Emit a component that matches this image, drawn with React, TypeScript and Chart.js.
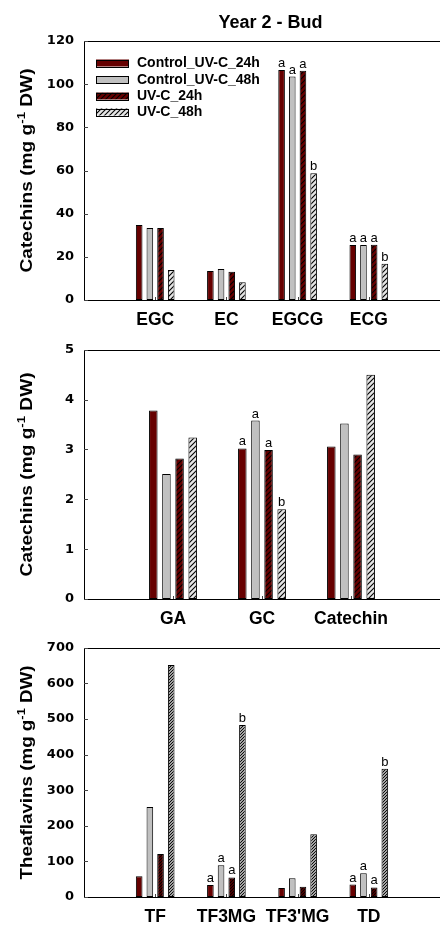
import React, { useEffect, useRef } from 'react';
import { Chart, registerables } from 'chart.js';
Chart.register(...registerables);

// ---------- DATA ----------
const seriesLabels = ['Control_UV-C_24h', 'Control_UV-C_48h', 'UV-C_24h', 'UV-C_48h'];

const catsTop = ['EGC', 'EC', 'EGCG', 'ECG'];
const topControl24 = [34.7, 13.4, 106.6, 25.5];
const topControl48 = [33.4, 14.4, 103.5, 25.5];
const topUV24 = [33.4, 13.1, 106.2, 25.6];
const topUV48 = [13.9, 8.2, 58.7, 16.8];
const topLetters = [['', '', '', ''], ['', '', '', ''], ['a', 'a', 'a', 'b'], ['a', 'a', 'a', 'b']];
const topTicks = [0, 20, 40, 60, 80, 100, 120];

const catsMid = ['GA', 'GC', 'Catechin'];
const midControl24 = [3.78, 3.02, 3.06];
const midControl48 = [2.51, 3.58, 3.52];
const midUV24 = [2.82, 2.99, 2.9];
const midUV48 = [3.24, 1.8, 4.5];
const midLetters = [['', '', '', ''], ['a', 'a', 'a', 'b'], ['', '', '', '']];
const midTicks = [0, 1, 2, 3, 4, 5];

const catsBot = ['TF', 'TF3MG', "TF3'MG", 'TD'];
const botControl24 = [58, 34, 25, 35];
const botControl48 = [253, 89, 53, 67];
const botUV24 = [121, 55, 29, 27];
const botUV48 = [652, 483, 176, 360];
const botLetters = [['', '', '', ''], ['a', 'a', 'a', 'b'], ['', '', '', ''], ['a', 'a', 'a', 'b']];
const botTicks = [0, 100, 200, 300, 400, 500, 600, 700];

const chartTitle = 'Year 2 - Bud';
const yTitleTop = ['Catechins (mg g', '-1', ' DW)'];
const yTitleMid = ['Catechins (mg g', '-1', ' DW)'];
const yTitleBot = ['Theaflavins (mg g', '-1', ' DW)'];

// ---------- STYLE ----------
const SANS = "'Liberation Sans', Arial, sans-serif";
const DARK = '#660000';
const GRAY = '#c0c0c0';
const LIGHT = '#e4e4e4';

function hatch(bg: string, s: number) {
  const c = document.createElement('canvas');
  c.width = s;
  c.height = s;
  const ctx = c.getContext('2d')!;
  ctx.fillStyle = bg;
  ctx.fillRect(0, 0, s, s);
  ctx.strokeStyle = '#000';
  ctx.lineWidth = 1.1;
  ctx.beginPath();
  ctx.moveTo(-1, s + 1);
  ctx.lineTo(s + 1, -1);
  ctx.moveTo(-2, 2);
  ctx.lineTo(2, -2);
  ctx.moveTo(s - 2, s + 2);
  ctx.lineTo(s + 2, s - 2);
  ctx.stroke();
  return ctx.createPattern(c, 'repeat')!;
}

interface Panel {
  cats: string[];
  series: number[][];
  letters: string[][];
  ticks: number[];
  yTitle: string[];
  yTitleLen: number;
  top: number;
  xHeight: number;
  height: number;
  hatchSize: number;
  catPct: number;
  barPct: number;
  showTitle: boolean;
  showLegend: boolean;
}

const framePlugin = {
  id: 'frame',
  beforeDatasetsDraw(chart: any) {
    const { ctx, chartArea: a } = chart;
    const p: Panel = chart.options.plugins.frame.panel;
    ctx.save();
    ctx.strokeStyle = '#000';
    ctx.lineWidth = 1;
    ctx.beginPath();
    ctx.rect(Math.round(a.left) + 0.5, Math.round(a.top) + 0.5, Math.round(a.right - a.left), Math.round(a.bottom - a.top));
    ctx.stroke();
    const ys = chart.scales.y;
    ctx.beginPath();
    p.ticks.forEach((t) => {
      const y = Math.round(ys.getPixelForValue(t)) + 0.5;
      ctx.moveTo(a.left, y);
      ctx.lineTo(a.left + 4, y);
    });
    const xs = chart.scales.x;
    p.cats.forEach((_, i) => {
      const x = Math.round(xs.getPixelForValue(i + 1)) + 0.5;
      ctx.moveTo(x, a.bottom);
      ctx.lineTo(x, a.bottom - 3);
    });
    ctx.strokeStyle = '#444';
    ctx.stroke();
    ctx.restore();
  },
  afterDraw(chart: any) {
    const { ctx, chartArea: a } = chart;
    const p: Panel = chart.options.plugins.frame.panel;
    ctx.save();
    // letters
    ctx.fillStyle = '#000';
    ctx.font = `13px ${SANS}`;
    ctx.textAlign = 'center';
    ctx.textBaseline = 'alphabetic';
    chart.data.datasets.forEach((_: any, di: number) => {
      const meta = chart.getDatasetMeta(di);
      p.cats.forEach((_c, ci) => {
        const letter = p.letters[ci][di];
        if (!letter) return;
        const el = meta.data[ci + 1];
        ctx.fillText(letter, el.x, el.y - 3);
      });
    });
    // y title
    ctx.save();
    ctx.translate(32, (a.top + a.bottom) / 2);
    ctx.rotate(-Math.PI / 2);
    const big = `bold 16px ${SANS}`;
    const small = `bold 11px ${SANS}`;
    ctx.font = big;
    const w0 = ctx.measureText(p.yTitle[0]).width;
    const w2 = ctx.measureText(p.yTitle[2]).width;
    ctx.font = small;
    const w1 = ctx.measureText(p.yTitle[1]).width;
    const total = w0 + w1 + w2;
    ctx.scale(p.yTitleLen / total, 1);
    let x = -total / 2;
    ctx.textAlign = 'left';
    ctx.textBaseline = 'alphabetic';
    ctx.font = big;
    ctx.fillText(p.yTitle[0], x, 0);
    x += w0;
    ctx.font = small;
    ctx.fillText(p.yTitle[1], x, -7);
    x += w1;
    ctx.font = big;
    ctx.fillText(p.yTitle[2], x, 0);
    ctx.restore();
    // title
    if (p.showTitle) {
      ctx.font = `bold 18px ${SANS}`;
      ctx.textAlign = 'center';
      ctx.textBaseline = 'middle';
      ctx.fillText(chartTitle, 270.5, 23);
    }
    // legend
    if (p.showLegend) {
      const rows = [63, 79.5, 96, 112];
      chart.data.datasets.forEach((ds: any, i: number) => {
        const y = rows[i];
        ctx.fillStyle = ds.backgroundColor;
        ctx.fillRect(96, y - 3.5, 33, 7);
        ctx.strokeStyle = '#000';
        ctx.lineWidth = 1;
        ctx.strokeRect(96.5, Math.round(y - 3.5) + 0.5, 32, 7);
        ctx.fillStyle = '#000';
        ctx.font = `bold 14px ${SANS}`;
        ctx.textAlign = 'left';
        ctx.textBaseline = 'middle';
        ctx.fillText(ds.label, 137, y + 0.5);
      });
    }
    ctx.restore();
  },
};

function makeConfig(p: Panel): any {
  const fills = [DARK, GRAY, hatch(DARK, p.hatchSize), hatch(LIGHT, p.hatchSize)];
  const labels = ['', ...p.cats, ''];
  return {
    type: 'bar',
    data: {
      labels,
      datasets: p.series.map((vals, i) => ({
        label: seriesLabels[i],
        data: [null, ...vals, null],
        backgroundColor: fills[i],
        borderColor: '#000',
        borderWidth: 1,
        borderSkipped: false,
        categoryPercentage: p.catPct,
        barPercentage: p.barPct,
      })),
    },
    options: {
      responsive: false,
      animation: false,
      events: [],
      layout: { padding: { top: p.top, right: 6, left: 0, bottom: 0 } },
      plugins: {
        legend: { display: false },
        title: { display: false },
        tooltip: { enabled: false },
        frame: { panel: p },
      },
      scales: {
        x: {
          type: 'category',
          offset: false,
          grid: { display: false, drawTicks: false },
          border: { display: false },
          ticks: {
            autoSkip: false,
            maxRotation: 0,
            minRotation: 0,
            color: '#000',
            font: { family: SANS, size: 17.5, weight: 'bold' },
            padding: 10,
          },
          afterFit: (s: any) => {
            s.height = p.xHeight;
          },
        },
        y: {
          min: p.ticks[0],
          max: p.ticks[p.ticks.length - 1],
          grid: { display: false, drawTicks: false },
          border: { display: false },
          ticks: {
            stepSize: p.ticks[1] - p.ticks[0],
            color: '#000',
            font: { family: "'DejaVu Sans', sans-serif", size: 13, weight: 'bold' },
            padding: 10,
          },
          afterFit: (s: any) => {
            s.width = 84;
          },
        },
      },
    },
    plugins: [framePlugin],
  };
}

const panels: { y: number; panel: Panel }[] = [
  {
    y: 0,
    panel: {
      cats: catsTop,
      series: [topControl24, topControl48, topUV24, topUV48],
      letters: topLetters,
      ticks: topTicks,
      yTitle: yTitleTop,
      yTitleLen: 204,
      top: 41,
      xHeight: 32,
      height: 332,
      hatchSize: 5,
      catPct: 0.6,
      barPct: 0.62,
      showTitle: true,
      showLegend: true,
    },
  },
  {
    y: 332,
    panel: {
      cats: catsMid,
      series: [midControl24, midControl48, midUV24, midUV48],
      letters: midLetters,
      ticks: midTicks,
      yTitle: yTitleMid,
      yTitleLen: 204,
      top: 9,
      xHeight: 31,
      height: 298,
      hatchSize: 5,
      catPct: 0.59,
      barPct: 0.65,
      showTitle: false,
      showLegend: false,
    },
  },
  {
    y: 630,
    panel: {
      cats: catsBot,
      series: [botControl24, botControl48, botUV24, botUV48],
      letters: botLetters,
      ticks: botTicks,
      yTitle: yTitleBot,
      yTitleLen: 214,
      top: 8,
      xHeight: 28,
      height: 295,
      hatchSize: 3,
      catPct: 0.6,
      barPct: 0.62,
      showTitle: false,
      showLegend: false,
    },
  },
];

function PanelChart({ y, panel }: { y: number; panel: Panel }) {
  const ref = useRef<HTMLCanvasElement>(null);
  useEffect(() => {
    if (!ref.current) return;
    const chart = new Chart(ref.current, makeConfig(panel));
    return () => chart.destroy();
  }, []);
  return (
    <canvas
      ref={ref}
      width={450}
      height={panel.height}
      style={{ position: 'absolute', left: 0, top: y, width: 450, height: panel.height, display: 'block' }}
    />
  );
}

export default function App() {
  return (
    <div style={{ position: 'absolute', left: 0, top: 0, width: 440, height: 925, overflow: 'hidden', background: '#fff' }}>
      {panels.map((p, i) => (
        <PanelChart key={i} y={p.y} panel={p.panel} />
      ))}
    </div>
  );
}
